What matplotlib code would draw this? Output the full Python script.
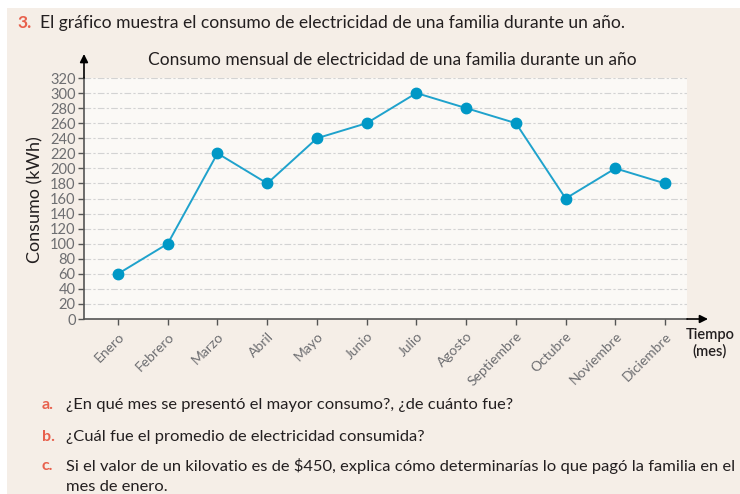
import matplotlib
matplotlib.use("Agg")
import matplotlib.pyplot as plt
from matplotlib.patches import Rectangle

months = ["Enero", "Febrero", "Marzo", "Abril", "Mayo", "Junio", "Julio",
          "Agosto", "Septiembre", "Octubre", "Noviembre", "Diciembre"]
consumo = [60, 100, 220, 180, 240, 260, 300, 280, 260, 160, 200, 180]
yticks = list(range(0, 321, 20))

header = "El gráfico muestra el consumo de electricidad de una familia durante un año."
title = "Consumo mensual de electricidad de una familia durante un año"
questions = [
    ("a.", "¿En qué mes se presentó el mayor consumo?, ¿de cuánto fue?"),
    ("b.", "¿Cuál fue el promedio de electricidad consumida?"),
    ("c.", "Si el valor de un kilovatio es de $450, explica cómo determinarías lo que pagó la familia en el"),
]
cont_line = "mes de enero."

FONT = ["Lato", "DejaVu Sans"]
plt.rcParams['font.family'] = FONT

W, H = 740, 494
fig = plt.figure(figsize=(W / 100, H / 100), dpi=100)
fig.patch.set_facecolor("white")

BEIGE = "#F5EEE7"
PLOTBG = "#FBF9F6"
ACCENT = "#E8604C"
DARK = "#231F20"
GRAY = "#6D6E71"
BLUE = "#1FA2CC"
MARK = "#0098C6"

# page background
fig.patches.append(Rectangle((7 / W, 0), 1, 1 - 8 / H, transform=fig.transFigure,
                             facecolor=BEIGE, edgecolor="none", zorder=-5))

def fx(px):
    return px / W

def fy(py):
    return 1 - py / H

# header
fig.text(fx(17), fy(23), "3.", color=ACCENT, fontsize=12.5, fontweight="bold", va="center")
fig.text(fx(40), fy(23), header, color=DARK, fontsize=12.6, va="center")

# axes
left, right, top, bottom = 84, 687, 78, 319
ax = fig.add_axes([fx(left), fy(bottom), (right - left) / W, (bottom - top) / H])
ax.set_zorder(2)
ax.set_facecolor(PLOTBG)
x = list(range(len(months)))
ax.plot(x, consumo, color=BLUE, lw=1.4, zorder=3, clip_on=False)
ax.plot(x, consumo, "o", color=MARK, ms=7.5, zorder=4, clip_on=False)
ax.set_xlim(-0.684, 11.44)
ax.set_ylim(0, 320)
ax.set_yticks(yticks)
ax.set_yticklabels([str(v) for v in yticks], fontsize=10.5, color=GRAY)
ax.set_xticks(x)
ax.set_xticklabels(months, rotation=45, ha="right", va="top", fontsize=10,
                   color=GRAY, rotation_mode="anchor")
ax.tick_params(axis="both", length=4, width=1, color="#555555", pad=2)
ax.tick_params(axis="x", pad=4)
for v in yticks[1:]:
    ax.axhline(v, color="#D3D3D3", lw=0.8, ls=(0, (6, 2, 2, 2)), zorder=1)
for s in ["top", "right"]:
    ax.spines[s].set_visible(False)
for s in ["left", "bottom"]:
    ax.spines[s].set_color("#555555")
    ax.spines[s].set_linewidth(1.2)

# arrows
ax.annotate("", xy=(0, (bottom - 54) / (bottom - top)), xytext=(0, 1.0),
            xycoords="axes fraction",
            arrowprops=dict(arrowstyle="-|>", color="black", lw=1.2,
                            mutation_scale=12, shrinkA=0, shrinkB=0),
            annotation_clip=False)
ax.annotate("", xy=((708 - left) / (right - left), 0), xytext=(1.0, 0),
            xycoords="axes fraction",
            arrowprops=dict(arrowstyle="-|>", color="black", lw=1.2,
                            mutation_scale=12, shrinkA=0, shrinkB=0),
            annotation_clip=False)

ax.set_ylabel("Consumo (kWh)", fontsize=13, color=DARK)
ax.yaxis.set_label_coords(-(84 - 35) / (right - left), (bottom - 200) / (bottom - top))
ax.yaxis.label.set_va("center")
fig.text(fx(392), fy(60), title, color=DARK, fontsize=12.5, ha="center", va="center")
fig.text(fx(710), fy(343), "Tiempo\n(mes)", color=DARK, fontsize=10.5, ha="center",
         va="center", linespacing=1.2, fontweight="semibold")

# questions
qy = [405, 437, 466]
for (lab, txt), y in zip(questions, qy):
    fig.text(fx(42), fy(y), lab, color=ACCENT, fontsize=11.5, fontweight="bold", va="center")
    fig.text(fx(66), fy(y), txt, color=DARK, fontsize=11.85, va="center")
fig.text(fx(66), fy(487), cont_line, color=DARK, fontsize=11.85, va="center")

fig.savefig("out.png", dpi=100, facecolor=fig.get_facecolor())
